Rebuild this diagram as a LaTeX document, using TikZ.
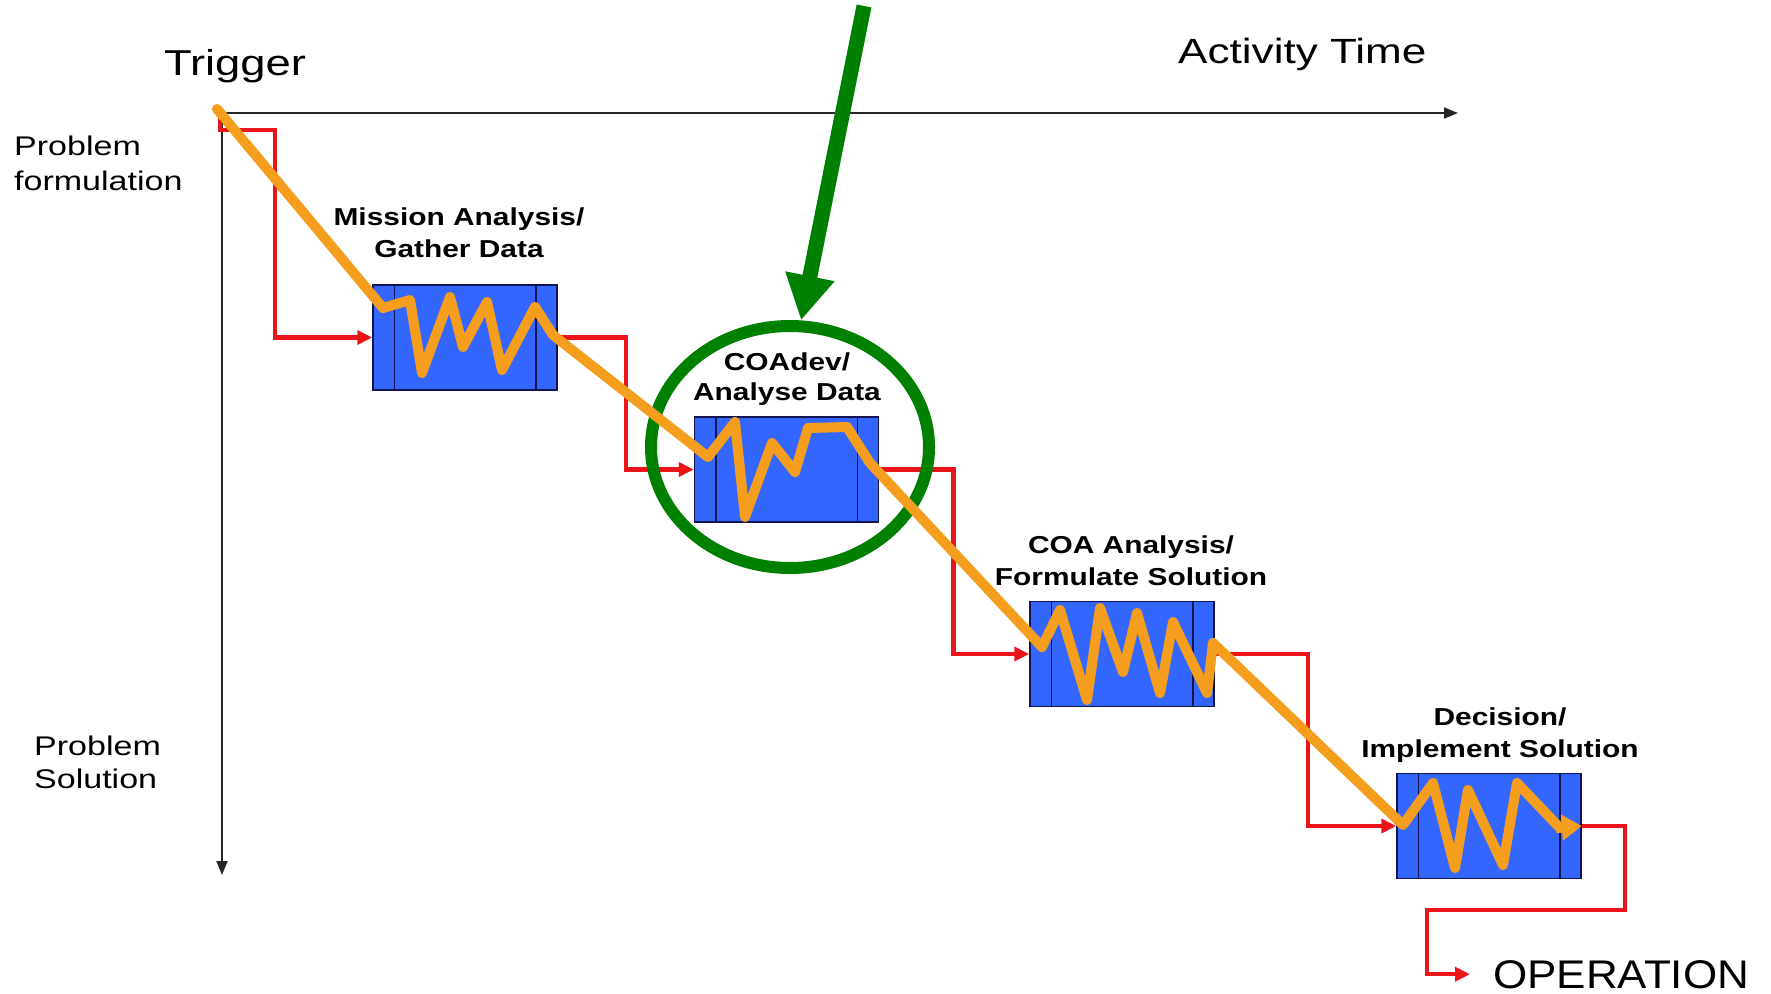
\documentclass[tikz,border=0pt]{standalone}
\usepackage{fontspec}
\setmainfont{Liberation Sans}
\newfontfamily\axisfont[FakeStretch=1.26]{Liberation Sans}
\newfontfamily\stagefont[FakeStretch=1.22]{Liberation Sans}
\newfontfamily\opfont[FakeStretch=1.1]{Liberation Sans}
\usetikzlibrary{arrows.meta,shapes.geometric}

\definecolor{boxblue}{RGB}{51,102,255}
\definecolor{boxedge}{RGB}{20,20,80}
\definecolor{flowred}{RGB}{235,20,25}
\definecolor{trace}{RGB}{245,158,30}
\definecolor{focusgreen}{RGB}{0,128,0}

\begin{document}
\begin{tikzpicture}[x=1pt,y=-1pt,
  axisline/.style={draw=black!85, line width=2pt, -{Triangle[length=14pt,width=11pt]}},
  axislabel/.style={inner sep=0pt, font=\axisfont\fontsize{35}{36}\selectfont},
  sidelabel/.style={inner sep=0pt, align=left, font=\axisfont\fontsize{27}{35}\selectfont},
  stagebox/.style={draw=boxedge, line width=1.5pt, fill=boxblue, minimum width=184pt, minimum height=105pt, inner sep=0pt},
  stagelabel/.style={inner sep=0pt, align=center, font=\stagefont\bfseries\fontsize{24.5}{32}\selectfont},
  stripline/.style={draw=boxedge, line width=1.5pt},
  flow/.style={draw=flowred, line width=4.5pt, -{Triangle[length=15pt,width=14pt]}},
  tracepath/.style={draw=trace, line width=10pt, line join=round, line cap=round},
  ring/.style={ellipse, draw=focusgreen, line width=12pt, minimum width=278pt, minimum height=242pt, inner sep=0pt},
  pointer/.style={draw=focusgreen, line width=15pt, -{Triangle[length=45pt,width=47pt]}}
]
\useasboundingbox[fill=white] (0,0) rectangle (1771,993);

% axes
\coordinate (origin) at (222,113);
\coordinate (timeend) at (1458,113);
\coordinate (solend) at (222,875);
\draw[axisline] (origin) -- (timeend);
\draw[axisline] (origin) -- (solend);

% axis texts (multi-line nodes are placed by the baseline of their last line)
\node[axislabel, anchor=base, font=\axisfont\fontsize{36}{37}\selectfont] (trigger) at (235,75) {Trigger};
\node[axislabel, anchor=base west] (acttime) at (1178,63) {Activity Time};
\node[sidelabel, anchor=base west] (pform) at (14,190) {Problem\\formulation};
\node[sidelabel, anchor=base west, font=\axisfont\fontsize{27}{33}\selectfont] (psol) at (34,788) {Problem\\Solution};

% stage boxes
\node[stagebox] (box1) at (465,337.5) {};
\node[stagebox] (box2) at (786.5,469.5) {};
\node[stagebox] (box3) at (1122,654) {};
\node[stagebox] (box4) at (1489,826) {};
\foreach \b in {box1,box2,box3,box4}{
  \draw[stripline] ([xshift=22pt]\b.north west) -- ([xshift=22pt]\b.south west);
  \draw[stripline] ([xshift=-22pt]\b.north east) -- ([xshift=-22pt]\b.south east);
}

% stage titles
\node[stagelabel, anchor=base] (lab1) at (459,257) {Mission Analysis/\\Gather Data};
\node[stagelabel, anchor=base, font=\stagefont\bfseries\fontsize{24.5}{30}\selectfont] (lab2) at (787,400) {COAdev/\\Analyse Data};
\node[stagelabel, anchor=base] (lab3) at (1131,585) {COA Analysis/\\Formulate Solution};
\node[stagelabel, anchor=base] (lab4) at (1500,757) {Decision/\\Implement Solution};

% final output label
\node[inner sep=0pt, anchor=base west, font=\opfont\fontsize{40}{42}\selectfont] (op) at (1493,988) {OPERATION};

% red process flow
\coordinate (redstart) at (220,115);
\draw[flow, line join=miter] (redstart) |- (275,130) |- (box1.west);
\draw[flow] (box1.east) -- ++(68,0) |- (box2.west);
\draw[flow] (box2.east) -- ++(74,0) |- (box3.west);
\draw[flow] (box3.east) -- ++(93,0) |- (box4.west);
\draw[flow] (box4.east) -| (1625,910) -| (1427,940) |- ([xshift=-23pt]op.west);

% highlighted stage
\node[ring] (focus) at (790,447) {};

% orange activity trace
\draw[tracepath]
  (217,109) -- (383,308) -- (410,300) -- (422,373) -- (450,297) -- (463,347)
  -- (487,302) -- (502,370) -- (535,307) -- (553,335)
  -- (708,457) -- (735,422) -- (745,517) -- (772,443) -- (795,472)
  -- (808,428) -- (847,427) -- (870,463)
  -- (1042,647) -- (1060,610) -- (1087,700) -- (1100,608) -- (1123,672)
  -- (1137,613) -- (1160,693) -- (1173,622) -- (1207,693) -- (1213,643)
  -- (1403,825) -- (1433,783) -- (1455,868) -- (1468,790) -- (1503,865)
  -- (1517,783) -- (1560,828);
\draw[draw=trace, line width=10pt, -{Triangle[length=20pt,width=25pt]}] (1556,828) -- (box4.east);

% green pointer
\coordinate (pointtop) at (864,6);
\draw[pointer] (pointtop) -- (focus.85);
\end{tikzpicture}
\end{document}
